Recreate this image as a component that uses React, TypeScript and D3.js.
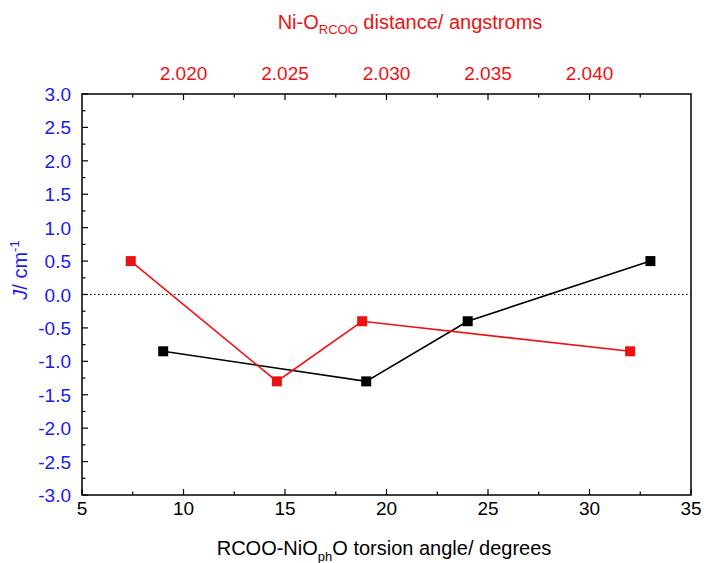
import * as d3 from "d3";

// torsion angle series (bottom axis), black
const torsionAngle = [9, 19, 24, 33];
const torsionJ = [-0.85, -1.3, -0.4, 0.5];

// Ni-O distance series (top axis), red
const distance = [2.0174, 2.0246, 2.0288, 2.042];
const distanceJ = [0.5, -1.3, -0.4, -0.85];

const xTicks = [5, 10, 15, 20, 25, 30, 35];
const topTicks = [2.02, 2.025, 2.03, 2.035, 2.04];
const yTicks = d3.range(-3, 3.01, 0.5);

const W = 707;
const H = 563;
const m = { left: 82, right: 691, top: 94, bottom: 495 };
const font = "'Liberation Sans', Arial, sans-serif";
const RED = "#ee1111";
const BLUE = "#1a1aee";

export default function App() {
  const x = d3.scaleLinear().domain([5, 35]).range([m.left, m.right]);
  const xTop = d3.scaleLinear().domain([2.015, 2.045]).range([m.left, m.right]);
  const y = d3.scaleLinear().domain([-3, 3]).range([m.bottom, m.top]);

  const line = d3.line<[number, number]>().x((d) => d[0]).y((d) => d[1]);
  const black = torsionAngle.map((a, i) => [x(a), y(torsionJ[i])] as [number, number]);
  const red = distance.map((a, i) => [xTop(a), y(distanceJ[i])] as [number, number]);

  const xMinor = d3.range(7.5, 35, 5);
  const topMinor = d3.range(2.0175, 2.045, 0.005);
  const yMinor = d3.range(-2.75, 3, 0.5);

  return (
    <svg width={W} height={H} style={{ position: "absolute", left: 0, top: 0 }} fontFamily={font}>
      <rect width={W} height={H} fill="white" />

      {/* zero reference */}
      <line x1={m.left} x2={m.right} y1={y(0)} y2={y(0)} stroke="#000" strokeWidth={1} strokeDasharray="1.5,2.5" />

      {/* series */}
      <path d={line(black) || ""} fill="none" stroke="#000" strokeWidth={1.6} />
      <path d={line(red) || ""} fill="none" stroke={RED} strokeWidth={1.6} />
      {black.map((p, i) => (
        <rect key={"b" + i} x={p[0] - 5} y={p[1] - 5} width={10} height={10} fill="#000" />
      ))}
      {red.map((p, i) => (
        <rect key={"r" + i} x={p[0] - 5} y={p[1] - 5} width={10} height={10} fill={RED} />
      ))}

      {/* frame */}
      <rect x={m.left} y={m.top} width={m.right - m.left} height={m.bottom - m.top} fill="none" stroke="#000" strokeWidth={1.5} />

      {/* bottom axis */}
      {xTicks.map((t) => (
        <g key={"x" + t}>
          <line x1={x(t)} x2={x(t)} y1={m.bottom} y2={m.bottom - 6} stroke="#000" strokeWidth={1.2} />
          <text x={x(t)} y={515} textAnchor="middle" fontSize={19} fill="#000">{t}</text>
        </g>
      ))}
      {xMinor.map((t) => (
        <line key={"xm" + t} x1={x(t)} x2={x(t)} y1={m.bottom} y2={m.bottom - 3.5} stroke="#000" strokeWidth={1.2} />
      ))}

      {/* top axis */}
      {topTicks.map((t) => (
        <g key={"t" + t}>
          <line x1={xTop(t)} x2={xTop(t)} y1={m.top} y2={m.top + 6} stroke="#000" strokeWidth={1.2} />
          <text x={xTop(t)} y={80} textAnchor="middle" fontSize={19} fill={RED}>{d3.format(".3f")(t)}</text>
        </g>
      ))}
      {topMinor.map((t) => (
        <line key={"tm" + t} x1={xTop(t)} x2={xTop(t)} y1={m.top} y2={m.top + 3.5} stroke="#000" strokeWidth={1.2} />
      ))}

      {/* left axis */}
      {yTicks.map((t) => (
        <g key={"y" + t}>
          <line x1={m.left} x2={m.left + 6} y1={y(t)} y2={y(t)} stroke="#000" strokeWidth={1.2} />
          <text x={71} y={y(t) + 7} textAnchor="end" fontSize={19} fill={BLUE}>
            {d3.format(".1f")(Math.abs(t) < 1e-9 ? 0 : t).replace("−", "-")}
          </text>
        </g>
      ))}
      {yMinor.map((t) => (
        <line key={"ym" + t} x1={m.left} x2={m.left + 3.5} y1={y(t)} y2={y(t)} stroke="#000" strokeWidth={1.2} />
      ))}

      {/* axis titles */}
      <text x={410} y={29} textAnchor="middle" fontSize={20} fill={RED}>
        Ni-O<tspan fontSize={13} dy={5}>RCOO</tspan><tspan dy={-5}> distance/ angstroms</tspan>
      </text>
      <text x={384} y={555} textAnchor="middle" fontSize={20} fill="#000">
        RCOO-NiO<tspan fontSize={13} dy={6}>ph</tspan><tspan dy={-6}>O torsion angle/ degrees</tspan>
      </text>
      <text transform={`translate(27, 270) rotate(-90)`} textAnchor="middle" fontSize={20} fill={BLUE}>
        <tspan fontStyle="italic">J</tspan>/ cm<tspan fontSize={13} dy={-8}>-1</tspan>
      </text>
    </svg>
  );
}
